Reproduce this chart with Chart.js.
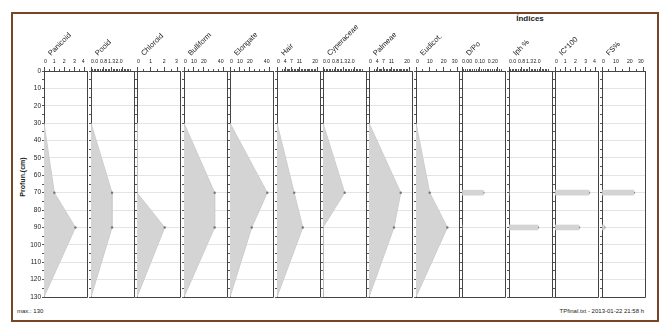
<!DOCTYPE html>
<html>
<head>
<meta charset="utf-8">
<script src="https://cdn.jsdelivr.net/npm/chart.js@4.4.0/dist/chart.umd.min.js"></script>
<style>
  body { margin: 0; width: 666px; height: 329px; background: #fff; position: relative; overflow: hidden;
         font-family: "Liberation Sans", Arial, sans-serif; }
  #frame { position: absolute; left: 11px; top: 12px; width: 644px; height: 306px; border: 2px solid #774626; }
  canvas { position: absolute; top: 0; }
  .txt { position: absolute; color: #222; white-space: nowrap; line-height: 1; }
</style>
</head>
<body>
<div id="frame"></div>
<div class="txt" style="left:530px; top:15px; transform:translateX(-50%); font-size:8px; font-weight:bold;">Índices</div>
<div class="txt" style="left:22px; top:177px; transform:translate(-50%,-50%) rotate(-90deg); font-size:7px; font-weight:bold;">Profun.(cm)</div>
<div class="txt" style="left:17px; top:308px; font-size:6px;">max.: 130</div>
<div class="txt" style="right:22px; top:308px; font-size:6px;">TPfinal.txt - 2013-01-22 21:58 h</div>
<script>
// sample depths (cm) for the silhouette curves
const depths = [30, 70, 90, 130];
const panicoid   = [0, 1.02, 3.1, 0];
const pooid      = [0, 1.33, 1.33, 0];
const chloroid   = [0, 0, 2.03, 0];
const bulliform  = [0, 31, 31, 0];
const elongate   = [0, 37.7, 22, 0];
const hair       = [0, 8.4, 12.6, 0];
const cyperaceae = [0, 1.37, 0, 0];
const palmeae    = [0, 15.5, 12.2, 0];
const eudicot    = [0, 9.9, 22.6, 0];

// indices, drawn as bars
const indexDepths = [70, 90];
const dPo   = [0.119, 0];
const iph   = [0, 1.83];
const ic100 = [3.32, 2.34];
const fs    = [22.8, 1.65];

// top axis tick values / labels
const ticks04 = [0, 1, 2, 3, 4];
const labels04 = ['0', '1', '2', '3', '4'];
const ticks03 = [0, 1, 2, 3];
const labels03 = ['0', '1', '2', '3'];
const ticksSmall = [0, 0.8, 1.3, 2.0];
const labelsSmall = ['0.0', '0.8', '1.3', '2.0'];
const ticks40 = [0, 10, 20, 40];
const labels40 = ['0', '10', '20', '40'];
const ticks20 = [0, 4, 7, 11, 20];
const labels20 = ['0', '4', '7', '11', '20'];
const ticks30 = [0, 10, 20, 30];
const labels30 = ['0', '10', '20', '30'];
const ticksDPo = [0, 0.1, 0.2];
const labelsDPo = ['0.00', '0.10', '0.20'];

const panels = [
  {name: 'Panicoid',   values: panicoid,   kind: 'area', max: 4.24, ticks: ticks04,    labels: labels04,    minor: [0.5, 0, 4]},
  {name: 'Pooid',      values: pooid,      kind: 'area', max: 2.72, ticks: ticksSmall, labels: labelsSmall, minor: [0.1, 0.1, 2.5]},
  {name: 'Chloroid',   values: chloroid,   kind: 'area', max: 3.15, ticks: ticks03,    labels: labels03,    minor: [0.5, 0, 3]},
  {name: 'Bulliform',  values: bulliform,  kind: 'area', max: 43.5, ticks: ticks40,    labels: labels40,    minor: [5, 0, 40]},
  {name: 'Elongate',   values: elongate,   kind: 'area', max: 43.5, ticks: ticks40,    labels: labels40,    minor: [5, 0, 40]},
  {name: 'Hair',       values: hair,       kind: 'area', max: 21,   ticks: ticks20,    labels: labels20,    minor: [0.7, 2.8, 19.6]},
  {name: 'Cyperaceae', values: cyperaceae, kind: 'area', max: 2.72, ticks: ticksSmall, labels: labelsSmall, minor: [0.1, 0.1, 2.5]},
  {name: 'Palmeae',    values: palmeae,    kind: 'area', max: 21,   ticks: ticks20,    labels: labels20,    minor: [0.7, 2.8, 19.6]},
  {name: 'Eudicot.',   values: eudicot,    kind: 'area', max: 31,   ticks: ticks30,    labels: labels30,    minor: [5, 0, 30]},
  {name: 'D/Po',       values: dPo,        kind: 'bar',  max: 0.24, ticks: ticksDPo,   labels: labelsDPo,   minor: [0.01, 0.01, 0.22]},
  {name: 'Iph %',      values: iph,        kind: 'bar',  max: 2.72, ticks: ticksSmall, labels: labelsSmall, minor: [0.1, 0.1, 2.5]},
  {name: 'IC*100',     values: ic100,      kind: 'bar',  max: 4.2,  ticks: ticks04,    labels: labels04,    minor: [0.5, 0, 4]},
  {name: 'FS%',        values: fs,         kind: 'bar',  max: 30.9, ticks: ticks30,    labels: labels30,    minor: [5, 0, 30]}
];

Chart.defaults.font.family = '"Liberation Sans", Arial, sans-serif';
Chart.defaults.color = '#222';

const PANEL_W = 43;
const AREA_TOP = 71;
const AREA_BOTTOM = 297;
const H = 329;
const AXIS = '#444';
const FILL = '#d4d4d4';

// right and bottom edge of each panel
const panelBox = {
  id: 'panelBox',
  afterDatasetsDraw(chart) {
    const {ctx, chartArea: a} = chart;
    const r = Math.round(a.right - 0.5) + 0.5;
    const b = Math.round(a.bottom - 0.5) + 0.5;
    ctx.save();
    ctx.strokeStyle = AXIS;
    ctx.lineWidth = 1;
    ctx.beginPath();
    ctx.moveTo(r, a.top);
    ctx.lineTo(r, b);
    ctx.lineTo(a.left, b);
    ctx.stroke();
    ctx.restore();
  }
};

// small in-between ticks on the top axis
const minorTicks = {
  id: 'minorTicks',
  afterDraw(chart, args, opts) {
    const [step, from, to] = opts.range;
    const scale = chart.scales.x;
    const {ctx, chartArea: a} = chart;
    ctx.save();
    ctx.strokeStyle = '#555';
    ctx.lineWidth = 1;
    ctx.beginPath();
    for (let v = from; v <= to + 1e-9; v += step) {
      const px = Math.round(scale.getPixelForValue(v) - 0.5) + 0.5;
      ctx.moveTo(px, a.top);
      ctx.lineTo(px, a.top - 2);
    }
    ctx.stroke();
    ctx.restore();
  }
};

// slanted column heading
const columnTitle = {
  id: 'columnTitle',
  afterDraw(chart, args, opts) {
    const {ctx, chartArea: a} = chart;
    ctx.save();
    ctx.translate(a.left + 7, 56);
    ctx.rotate(-Math.PI / 4);
    ctx.font = '7.5px "Liberation Sans", Arial, sans-serif';
    ctx.fillStyle = '#222';
    ctx.textAlign = 'left';
    ctx.textBaseline = 'alphabetic';
    ctx.fillText(opts.text, 0, 0);
    ctx.restore();
  }
};

function tipRadius(c) {
  return c.raw && c.raw.x > 0 ? 1.2 : 0;
}

function buildDatasets(p) {
  if (p.kind === 'area') {
    const pts = depths.map((d, k) => ({x: p.values[k], y: d}));
    return [{
      type: 'line', data: pts, fill: 'origin', tension: 0,
      backgroundColor: FILL, borderColor: '#cdcdcd', borderWidth: 1,
      pointRadius: tipRadius, pointBackgroundColor: '#777', pointBorderWidth: 0
    }];
  }
  const pts = indexDepths.map((d, k) => ({x: p.values[k], y: d}));
  return [
    {type: 'bar', data: pts, backgroundColor: FILL, borderWidth: 0, barThickness: 5},
    {type: 'line', data: pts, showLine: false, pointRadius: tipRadius,
     pointBackgroundColor: '#777', pointBorderWidth: 0}
  ];
}

panels.forEach((p, i) => {
  const left = Math.round(44.4 + 46.44 * i);
  const padL = i === 0 ? left : 8;
  const padR = 8;
  const canvas = document.createElement('canvas');
  canvas.width = padL + PANEL_W + padR;
  canvas.height = H;
  canvas.style.left = (left - padL) + 'px';
  document.body.appendChild(canvas);

  new Chart(canvas, {
    type: 'line',
    data: {datasets: buildDatasets(p)},
    options: {
      responsive: false,
      animation: false,
      indexAxis: 'y',
      layout: {autoPadding: false, padding: {left: 0, right: padR, top: 0, bottom: H - AREA_BOTTOM}},
      plugins: {
        legend: {display: false},
        tooltip: {enabled: false},
        minorTicks: {range: p.minor},
        columnTitle: {text: p.name}
      },
      scales: {
        x: {
          type: 'linear', position: 'top', min: 0, max: p.max,
          afterBuildTicks: s => { s.ticks = p.ticks.map(v => ({value: v})); },
          afterFit: s => { s.height = AREA_TOP; s.paddingLeft = 0; s.paddingRight = 0; },
          ticks: {
            autoSkip: false, maxRotation: 0, align: 'inner', padding: 2,
            font: {size: 5.2}, color: '#222',
            callback: (v, idx) => p.labels[idx]
          },
          grid: {drawOnChartArea: false, tickLength: 4, color: AXIS},
          border: {color: AXIS, width: 1}
        },
        y: {
          type: 'linear', reverse: true, min: 0, max: 130, offset: false,
          afterFit: s => { s.width = padL; },
          ticks: {
            display: i === 0, stepSize: 5, autoSkip: false, padding: 1,
            font: {size: 6.5}, color: '#222',
            callback: v => (v % 10 === 0 ? v : '')
          },
          grid: {
            offset: false, tickLength: 2, tickColor: '#555',
            color: c => (c.tick && c.tick.value % 10 === 0 && c.tick.value > 0 && c.tick.value < 130 ? '#e4e4e4' : 'rgba(0,0,0,0)')
          },
          border: {color: AXIS, width: 1}
        }
      }
    },
    plugins: [panelBox, minorTicks, columnTitle]
  });
});
</script>
</body>
</html>
